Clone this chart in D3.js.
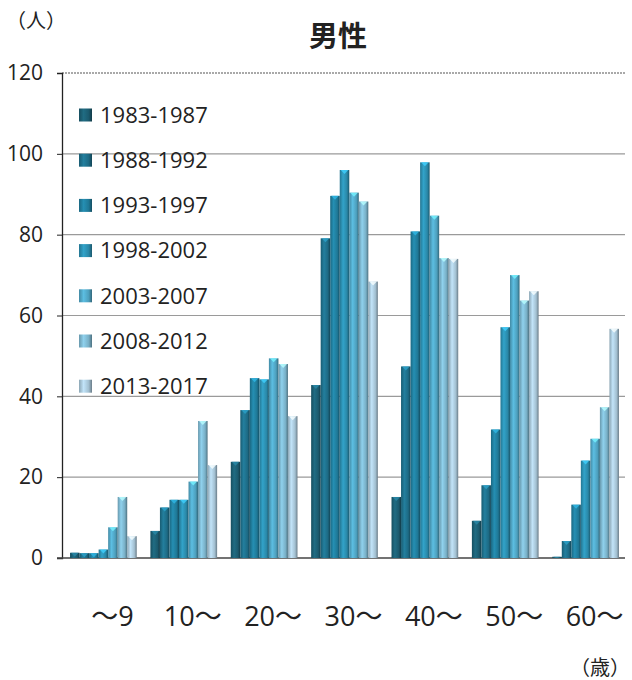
<!DOCTYPE html>
<html><head><meta charset="utf-8">
<script src="https://cdn.jsdelivr.net/npm/d3@7"></script>
<style>body{margin:0;background:#fff}svg{display:block}text{font-family:"Open Sans","Noto Sans CJK JP",sans-serif;fill:#222}</style>
</head><body>
<svg id="c" width="632" height="680"></svg>
<script>
const categories = ["～9","10～","20～","30～","40～","50～","60～"];
const seriesNames = ["1983-1987","1988-1992","1993-1997","1998-2002","2003-2007","2008-2012","2013-2017"];
const s1983 = [1.3, 6.7, 23.8, 42.8, 15.1, 9.2, 0.3];
const s1988 = [1.2, 12.5, 36.6, 79.1, 47.4, 18.0, 4.2];
const s1993 = [1.2, 14.4, 44.5, 89.6, 80.8, 31.8, 13.2];
const s1998 = [2.1, 14.4, 44.2, 96.0, 97.9, 57.1, 24.1];
const s2003 = [7.6, 18.9, 49.4, 90.4, 84.7, 70.0, 29.5];
const s2008 = [15.1, 33.9, 48.0, 88.2, 74.2, 63.7, 37.3];
const s2013 = [5.4, 23.0, 35.1, 68.4, 74.0, 66.0, 56.7];
const yTicks = [0,20,40,60,80,100,120];
const seriesValues = [s1983,s1988,s1993,s1998,s2003,s2008,s2013];
const colors = ["#1b5a6e","#1d6a84","#1f7896","#2a88a8","#4d9fbd","#78afc6","#a2bfd0"];

const svg = d3.select("#c");
const y = d3.scaleLinear().domain([0,120]).range([558,73]);
const x0 = d3.scaleBand().domain(categories).range([62,627]).paddingInner(0.17).paddingOuter(0.1);
const x1 = d3.scaleBand().domain(seriesNames).range([0,x0.bandwidth()]);

const defs = svg.append("defs");
colors.forEach((c,i)=>{
  const g = defs.append("linearGradient").attr("id","g"+i).attr("x1","0").attr("x2","1").attr("y1","0").attr("y2","0");
  const base = d3.color(c);
  g.append("stop").attr("offset","0%").attr("stop-color",base.darker(0.4));
  g.append("stop").attr("offset","35%").attr("stop-color",base.brighter(0.5));
  g.append("stop").attr("offset","75%").attr("stop-color",base);
  g.append("stop").attr("offset","100%").attr("stop-color",base.darker(1.2));
});

// gridlines
svg.append("g").selectAll("line").data(yTicks.filter(d=>d>0)).join("line")
  .attr("x1",62).attr("x2",625).attr("y1",d=>y(d)).attr("y2",d=>y(d))
  .attr("stroke",d=>d===120?"#555":"#9a9a9a").attr("stroke-width",1.2)
  .attr("stroke-dasharray",d=>d===120?"2,1":null);

// y axis
const ya = svg.append("g").attr("transform","translate(62,0)")
  .call(d3.axisLeft(y).tickValues(yTicks).tickSize(5).tickPadding(14));
ya.attr("font-size",null).attr("font-family",null);
ya.select(".domain").attr("stroke","#222").attr("stroke-width",1.3);
ya.selectAll(".tick line").attr("stroke","#222");
ya.selectAll(".tick text").style("font-size","21px").style("fill","#222").style("font-family","'Open Sans',sans-serif");
// baseline
svg.append("line").attr("x1",57).attr("x2",625).attr("y1",y(0)).attr("y2",y(0)).attr("stroke","#444").attr("stroke-width",1.3);

// bars
const groups = svg.append("g").selectAll("g").data(categories).join("g")
  .attr("transform",d=>`translate(${x0(d)},0)`);
groups.selectAll("rect").data((d,ci)=>seriesNames.map((s,si)=>({s,si,v:seriesValues[si][ci]}))).join("rect")
  .attr("x",d=>x1(d.s)).attr("width",x1.bandwidth())
  .attr("y",d=>y(d.v)).attr("height",d=>y(0)-y(d.v))
  .attr("fill",d=>`url(#g${d.si})`);
// light top caps
groups.selectAll("path.cap").data((d,ci)=>seriesNames.map((s,si)=>({s,si,v:seriesValues[si][ci]}))).join("path")
  .attr("class","cap")
  .attr("d",d=>{const bx=x1(d.s), w=x1.bandwidth(), ty=y(d.v); const h=Math.min(4,(y(0)-ty));
    return `M${bx+1},${ty} L${bx+w-1},${ty} L${bx+w/2},${ty+h} Z`;})
  .attr("fill",d=>d3.color(colors[d.si]).brighter(1.2)).attr("opacity",0.8);

// legend
const lg = svg.append("g");
seriesNames.forEach((s,i)=>{
  const cy = 115 + i*45.2;
  lg.append("rect").attr("x",79).attr("y",cy-6.5).attr("width",13).attr("height",13).attr("fill",`url(#g${i})`);
  lg.append("text").attr("x",100).attr("y",cy).attr("dy","0.35em").attr("font-size",22).text(s);
});

// x labels
svg.append("g").selectAll("text").data(categories).join("text")
  .attr("x",d=>x0(d)+x0.bandwidth()/2+9).attr("y",626).attr("text-anchor","middle")
  .attr("font-size",27).text(d=>d);

// titles
svg.append("text").attr("x",338).attr("y",47).attr("text-anchor","middle").attr("font-size",29).attr("font-weight","bold")
  .attr("font-family","'Noto Sans CJK JP',sans-serif").text("男性");
svg.append("text").attr("x",6).attr("y",28).attr("font-size",20).attr("font-family","'Noto Sans CJK JP',sans-serif").text("（人）");
svg.append("text").attr("x",630).attr("y",675).attr("text-anchor","end").attr("font-size",20).attr("font-family","'Noto Sans CJK JP',sans-serif").text("（歳）");
</script>
</body></html>
